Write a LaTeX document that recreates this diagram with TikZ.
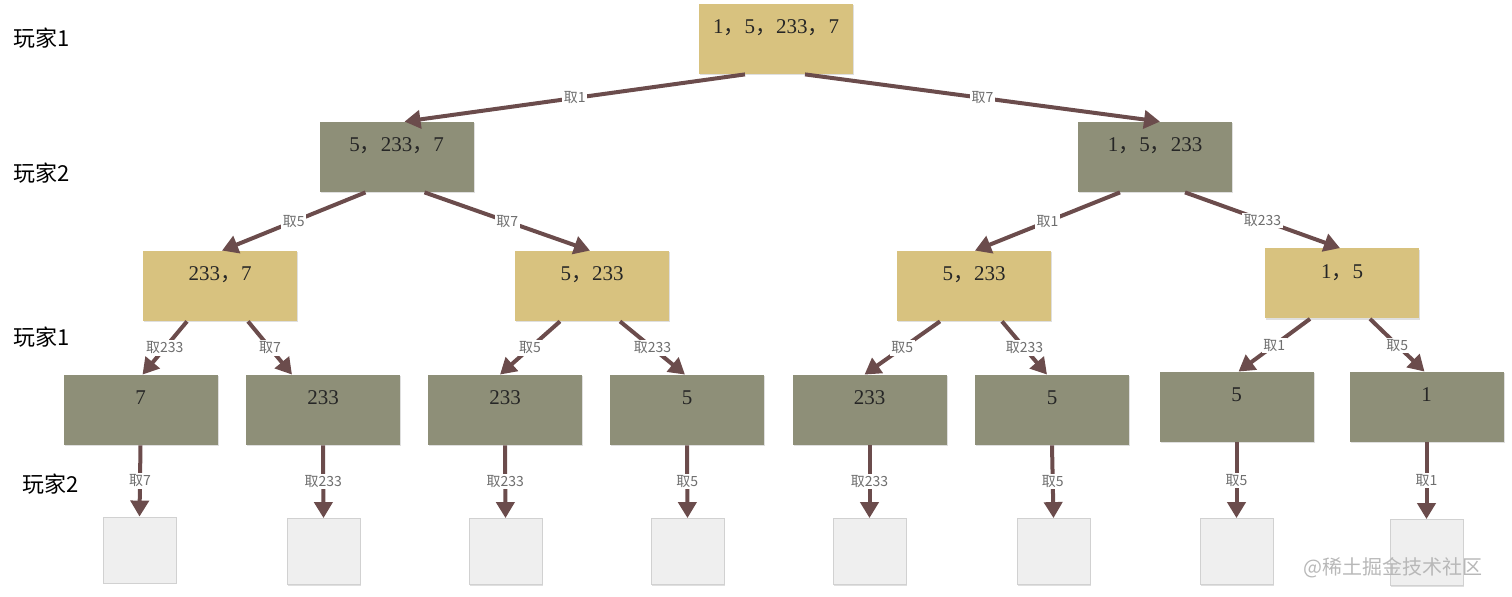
\documentclass[tikz,border=0pt]{standalone}
\usepackage{fontspec}
\setmainfont{Liberation Serif}
\newfontfamily\cjk{Noto Sans CJK SC}
\usepackage{tikz}
\usetikzlibrary{arrows.meta,shadows}

\definecolor{sandfill}{HTML}{D8C27F}
\definecolor{olivefill}{HTML}{8E8F78}
\definecolor{movebrown}{HTML}{6B4C4C}
\definecolor{leaffill}{HTML}{EFEFEF}
\definecolor{takegray}{HTML}{6E6E6E}
\newcommand{\cma}{{\cjk ，}}

\begin{document}
\begin{tikzpicture}[x=0.5pt,y=-0.5pt,>={Triangle[width=9pt,length=8pt]},
	box/.style={rectangle,minimum width=77pt,minimum height=35pt,inner xsep=2pt,inner ysep=0pt,
		text height=15pt,text depth=20pt,font=\fontsize{10.5}{12}\selectfont,text=black!85,
		drop shadow={shadow xshift=0.7pt,shadow yshift=-0.7pt,fill=black!25}},
	sandbox/.style={box,fill=sandfill},
	olivebox/.style={box,fill=olivefill},
	leaf/.style={rectangle,minimum width=36.5pt,minimum height=33pt,fill=leaffill,draw=black!18,
		drop shadow={shadow xshift=0.7pt,shadow yshift=-0.7pt,fill=black!25}},
	move/.style={draw=movebrown,line width=2pt,->},
	take/.style={fill=white,text=takegray,inner sep=0.8pt,font=\cjk\fontsize{7}{8}\selectfont},
	player/.style={anchor=west,inner sep=0pt,font=\cjk\fontsize{11}{13}\selectfont}]
	\useasboundingbox (0,0) rectangle (1512,597);
	% players
	\node[player] (p1) at (13,38) {玩家1};
	\node[player] (p2) at (13,173) {玩家2};
	\node[player] (p3) at (13,337) {玩家1};
	\node[player] (p4) at (22,484) {玩家2};
	% tree
	\node[sandbox] (root) at (776,39) {1\cma 5\cma 233\cma 7};
	\node[olivebox] (n1) at (396.5,157) {5\cma 233\cma 7};
	\node[olivebox] (n2) at (1155,157) {1\cma 5\cma 233};
	\node[sandbox] (n11) at (220,286) {233\cma 7};
	\node[sandbox] (n12) at (592,286) {5\cma 233};
	\node[sandbox] (n21) at (974,286) {5\cma 233};
	\node[sandbox] (n22) at (1342,283.5) {1\cma 5};
	\node[olivebox] (n111) at (140.5,410) {7};
	\node[olivebox] (n112) at (323,410) {233};
	\node[olivebox] (n121) at (505,410) {233};
	\node[olivebox] (n122) at (687,410) {5};
	\node[olivebox] (n211) at (869.5,410) {233};
	\node[olivebox] (n212) at (1052,410) {5};
	\node[olivebox] (n221) at (1236.5,407) {5};
	\node[olivebox] (n222) at (1426.5,407) {1};
	\node[leaf] (e1) at (139.5,550) {};
	\node[leaf] (e2) at (323.5,551.5) {};
	\node[leaf] (e3) at (505.5,551.5) {};
	\node[leaf] (e4) at (687.5,551.5) {};
	\node[leaf] (e5) at (869.5,551.5) {};
	\node[leaf] (e6) at (1053.5,551.5) {};
	\node[leaf] (e7) at (1236.5,551.5) {};
	\node[leaf] (e8) at (1426.5,552.5) {};
	% moves
	\draw[move] ([xshift=-15.5pt]root.south) -- node[take] {取1} ([xshift=4pt]n1.north);
	\draw[move] ([xshift=14.5pt]root.south) -- node[take] {取7} ([xshift=2.5pt]n2.north);
	\draw[move] ([xshift=-15.5pt]n1.south) -- node[take] {取5} ([xshift=1pt]n11.north);
	\draw[move] ([xshift=14pt]n1.south) -- node[take] {取7} ([xshift=-1pt]n12.north);
	\draw[move] ([xshift=-17.5pt]n2.south) -- node[take] {取1} ([xshift=0.5pt]n21.north);
	\draw[move] ([xshift=15pt]n2.south) -- node[take] {取233} ([xshift=-1pt]n22.north);
	\draw[move] ([xshift=-16.5pt]n11.south) -- node[take] {取233} ([xshift=1pt]n111.north);
	\draw[move] ([xshift=14pt]n11.south) -- node[take] {取7} ([xshift=-15.5pt]n112.north);
	\draw[move] ([xshift=-16pt]n12.south) -- node[take] {取5} ([xshift=-2.5pt]n121.north);
	\draw[move] ([xshift=14pt]n12.south) -- node[take] {取233} ([xshift=-1pt]n122.north);
	\draw[move] ([xshift=-17pt]n21.south) -- node[take] {取5} ([xshift=-2.5pt]n211.north);
	\draw[move] ([xshift=14pt]n21.south) -- node[take] {取233} ([xshift=-2.5pt]n212.north);
	\draw[move] ([xshift=-16pt]n22.south) -- node[take] {取1} ([xshift=1pt]n221.north);
	\draw[move] ([xshift=14pt]n22.south) -- node[take] {取5} ([xshift=-1pt]n222.north);
	\draw[move] (n111.south) -- node[take] {取7} (e1.north);
	\draw[move] (n112.south) -- node[take] {取233} (e2.north);
	\draw[move] (n121.south) -- node[take] {取233} (e3.north);
	\draw[move] (n122.south) -- node[take] {取5} (e4.north);
	\draw[move] (n211.south) -- node[take] {取233} (e5.north);
	\draw[move] (n212.south) -- node[take] {取5} (e6.north);
	\draw[move] (n221.south) -- node[take] {取5} (e7.north);
	\draw[move] (n222.south) -- node[take] {取1} (e8.north);
	% watermark
	\node[anchor=west,inner sep=0pt,text=black!28,font=\cjk\fontsize{10}{12}\selectfont] (mark) at (1303,568) {@稀土掘金技术社区};
\end{tikzpicture}
\end{document}
